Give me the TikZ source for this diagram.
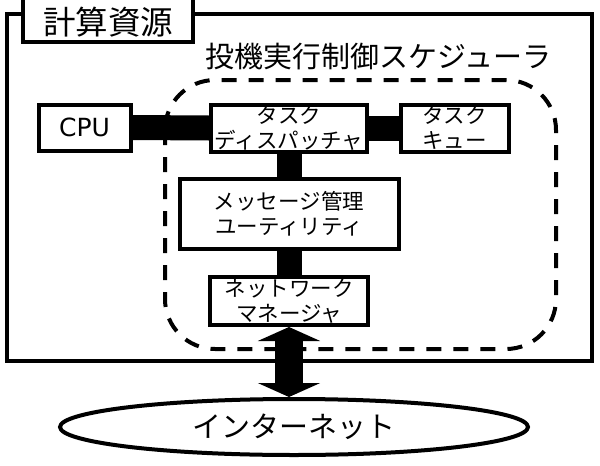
\documentclass[tikz,border=0pt]{standalone}
\usepackage{fontspec}
\setmainfont{Noto Sans CJK JP}
\newfontfamily\latinfont{DejaVu Sans}
\usetikzlibrary{shapes.geometric,arrows.meta}

\tikzset{
  unitbox/.style={draw, line width=4pt, fill=white, inner sep=0pt, align=center,
                  font=\fontsize{21.5}{25}\selectfont},
  bus/.style={line width=25pt},
  area/.style={draw, line width=4pt},
  scheduler/.style={draw, line width=4pt, dash pattern=on 15pt off 12pt, rounded corners=50pt},
  cloud/.style={draw, ellipse, line width=4pt, fill=white, inner sep=0pt,
                font=\fontsize{29}{32}\selectfont},
  link/.style={line width=28pt, {Triangle[length=14pt,width=62pt]}-{Triangle[length=14pt,width=62pt]}}
}

\begin{document}
\begin{tikzpicture}[x=1pt,y=-1pt]
  \useasboundingbox (0,0) rectangle (600,466);

  % computing resources frame
  \draw[area] (7,14) rectangle (592,361);
  \node[area, fill=white, minimum width=170pt, minimum height=48pt, inner sep=0pt] (res) at (108,18) {};
  \node[font=\fontsize{32.5}{34}\selectfont] (restitle) at (108,22) {計算資源};

  % scheduler region
  \draw[scheduler] (165,80) rectangle (556,349);
  \node[font=\fontsize{29}{31}\selectfont, anchor=west, inner sep=0pt] (schedtitle) at (205,57) {投機実行制御スケジューラ};

  % units
  \node[unitbox, minimum width=92pt, minimum height=46pt, font=\latinfont\fontsize{25}{28}\selectfont] (cpu) at (84.5,127.5) {CPU};
  \node[unitbox, minimum width=156pt, minimum height=47pt] (disp) at (289,128) {タスク\\ディスパッチャ};
  \node[unitbox, minimum width=108pt, minimum height=47pt] (queue) at (454.5,128) {タスク\\キュー};
  \node[unitbox, minimum width=219pt, minimum height=70pt] (msg) at (289,213.5) {メッセージ管理\\ユーティリティ};
  \node[unitbox, minimum width=158pt, minimum height=48pt] (net) at (289,301) {ネットワーク\\マネージャ};

  % internet
  \node[cloud, minimum width=468pt, minimum height=56pt] (inet) at (294,427) {インターネット};

  % connections between units
  \draw[bus] (cpu.east) -- (disp.west);
  \draw[bus] (disp.east) -- (queue.west);
  \draw[bus] (disp.south) -- (msg.north);
  \draw[bus] (msg.south) -- (net.north);
  \draw[link] (net.south) -- (net.south |- inet.north);
\end{tikzpicture}
\end{document}
